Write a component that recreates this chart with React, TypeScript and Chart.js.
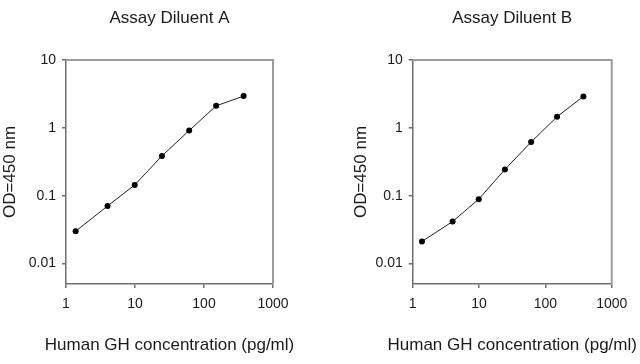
import React, { useEffect, useRef } from "react";
import { Chart, registerables } from "chart.js";

Chart.register(...registerables);

const concentrations = [1.38, 4.0, 9.9, 24.6, 61, 150, 375];
const odDiluentA = [0.03, 0.0705, 0.144, 0.386, 0.914, 2.11, 2.94];
const odDiluentB = [0.0212, 0.0417, 0.089, 0.244, 0.618, 1.46, 2.91];
const xTickValues = [1, 10, 100, 1000];
const xTickLabels = ["1", "10", "100", "1000"];
const yTickValues = [0.01, 0.1, 1, 10];
const yTickLabels = ["0.01", "0.1", "1", "10"];
const titles = ["Assay Diluent A", "Assay Diluent B"];
const xTitle = "Human GH concentration (pg/ml)";
const yTitle = "OD=450 nm";

const FONT = "'Liberation Sans', Arial, Helvetica, sans-serif";
const TEXT = "#1a1a1a";
const AXIS = "#6e6e6e";

const framePlugin = {
  id: "frame",
  beforeDatasetsDraw(chart: any) {
    const { ctx, chartArea } = chart;
    ctx.save();
    ctx.strokeStyle = "#9c9c9c";
    ctx.lineWidth = 2;
    ctx.beginPath();
    ctx.moveTo(chartArea.left, chartArea.top);
    ctx.lineTo(chartArea.right, chartArea.top);
    ctx.lineTo(chartArea.right, chartArea.bottom);
    ctx.stroke();
    ctx.restore();
  },
  afterDraw(chart: any) {
    const { ctx, chartArea } = chart;
    ctx.save();
    ctx.font = `17px ${FONT}`;
    ctx.fillStyle = TEXT;
    ctx.textAlign = "center";
    ctx.textBaseline = "middle";
    ctx.fillText(xTitle, (chartArea.left + chartArea.right) / 2, chartArea.bottom + 61);
    ctx.restore();
  },
};

function makeConfig(title: string, values: number[], padLeft: number, yWidth: number, padRight: number): any {
  return {
    type: "line",
    data: {
      datasets: [
        {
          data: concentrations.map((c, i) => ({ x: c, y: values[i] })),
          borderColor: "#222",
          borderWidth: 1,
          pointBackgroundColor: "#000",
          pointBorderColor: "#000",
          pointRadius: 3,
          pointBorderWidth: 0,
          tension: 0,
          fill: false,
        },
      ],
    },
    options: {
      responsive: false,
      animation: false,
      layout: { padding: { left: padLeft, right: padRight, top: 0, bottom: 0 } },
      plugins: {
        legend: { display: false },
        tooltip: { enabled: false },
        title: {
          display: true,
          text: title,
          fullSize: false,
          color: TEXT,
          font: { family: FONT, size: 17, weight: "normal" },
          padding: { top: 7.8, bottom: 31.8 },
        },
      },
      scales: {
        x: {
          type: "logarithmic",
          min: 1,
          max: 1000,
          afterBuildTicks: (s: any) => {
            s.ticks = xTickValues.map((v) => ({ value: v }));
          },
          afterFit: (s: any) => {
            s.height = 80;
          },
          ticks: {
            color: TEXT,
            font: { family: FONT, size: 14 },
            padding: 8,
            maxRotation: 0,
            autoSkip: false,
            callback: (v: number) => xTickLabels[xTickValues.indexOf(v)] ?? "",
          },
          grid: { drawOnChartArea: false, drawTicks: true, tickLength: 4, color: AXIS, lineWidth: 1.5 },
          border: { display: true, color: AXIS, width: 1.5 },
          title: { display: false },
        },
        y: {
          type: "logarithmic",
          min: 0.005,
          max: 10,
          afterBuildTicks: (s: any) => {
            s.ticks = yTickValues.map((v) => ({ value: v }));
          },
          afterFit: (s: any) => {
            s.width = yWidth;
          },
          ticks: {
            color: TEXT,
            font: { family: FONT, size: 14 },
            padding: 6,
            autoSkip: false,
            callback: (v: number) => yTickLabels[yTickValues.indexOf(v)] ?? "",
          },
          grid: { drawOnChartArea: false, drawTicks: true, tickLength: 4, color: AXIS, lineWidth: 1.5 },
          border: { display: true, color: AXIS, width: 1.5 },
          title: {
            display: true,
            text: yTitle,
            color: TEXT,
            font: { family: FONT, size: 17 },
            padding: { top: 0, bottom: 0 },
          },
        },
      },
    },
    plugins: [framePlugin],
  };
}

function Panel({ title, values, left, padLeft, yWidth, padRight }: any) {
  const ref = useRef<HTMLCanvasElement>(null);
  useEffect(() => {
    if (!ref.current) return;
    const chart = new Chart(ref.current, makeConfig(title, values, padLeft, yWidth, padRight));
    return () => chart.destroy();
  }, []);
  return (
    <canvas
      ref={ref}
      width={320}
      height={364}
      style={{ position: "absolute", left, top: 0, width: 320, height: 364 }}
    />
  );
}

export default function App() {
  return (
    <div style={{ position: "fixed", left: 0, top: 0, width: 640, height: 364, background: "#fff" }}>
      <Panel title={titles[0]} values={odDiluentA} left={0} padLeft={0} yWidth={66} padRight={47} />
      <Panel title={titles[1]} values={odDiluentB} left={320} padLeft={31.5} yWidth={61.2} padRight={28.3} />
    </div>
  );
}
